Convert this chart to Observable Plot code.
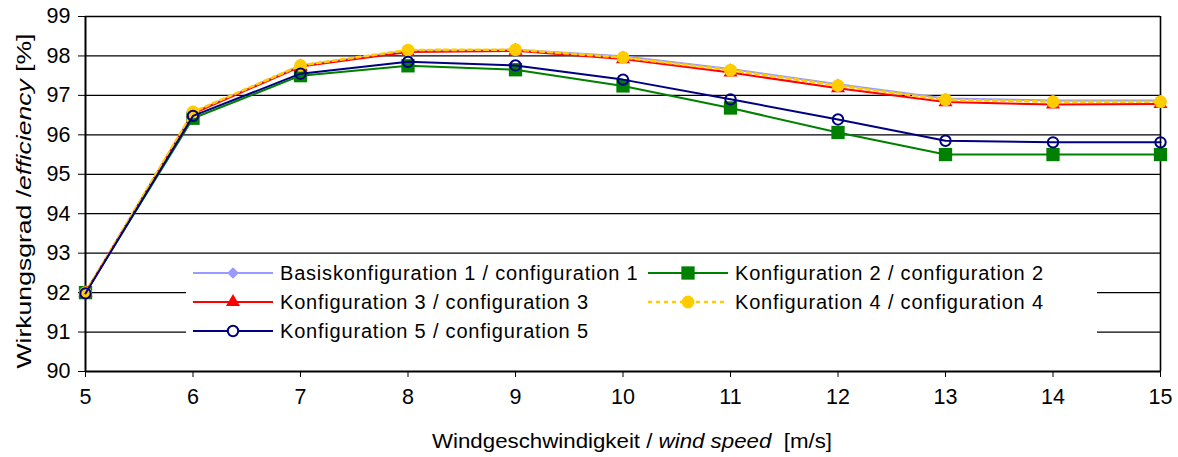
<!DOCTYPE html>
<html><head><meta charset="utf-8">
<script src="https://cdn.jsdelivr.net/npm/d3@7"></script>
<script src="https://cdn.jsdelivr.net/npm/@observablehq/plot@0.6"></script>
<style>
body{margin:0;background:#fff;}
#chart svg{font-family:"Liberation Sans",Arial,sans-serif;}
</style>
</head><body><div id="chart"></div>
<script>
// ---- data ----
const speeds = [5, 6, 7, 8, 9, 10, 11, 12, 13, 14, 15];
const config1 = [92.0, 96.56, 97.76, 98.13, 98.16, 97.99, 97.67, 97.28, 96.92, 96.87, 96.87];
const config2 = [92.0, 96.42, 97.50, 97.75, 97.65, 97.24, 96.68, 96.06, 95.50, 95.50, 95.50];
const config3 = [92.0, 96.54, 97.73, 98.10, 98.13, 97.92, 97.58, 97.18, 96.83, 96.77, 96.78];
const config4 = [92.0, 96.58, 97.76, 98.15, 98.16, 97.96, 97.64, 97.25, 96.89, 96.84, 96.84];
const config5 = [91.98, 96.48, 97.55, 97.85, 97.76, 97.40, 96.90, 96.39, 95.85, 95.81, 95.81];
const seriesNames = [
  "Basiskonfiguration 1 / configuration 1",
  "Konfiguration 2 / configuration 2",
  "Konfiguration 3 / configuration 3",
  "Konfiguration 4 / configuration 4",
  "Konfiguration 5 / configuration 5"
];
const seriesColors = ["#9999FF", "#008000", "#FF0000", "#FFCC00", "#000080"];
const xTicks = [5, 6, 7, 8, 9, 10, 11, 12, 13, 14, 15];
const yTicks = [90, 91, 92, 93, 94, 95, 96, 97, 98, 99];
const yTitle = ["Wirkungsgrad /", "efficiency", " [%]"];
const xTitle = ["Windgeschwindigkeit / ", "wind speed", "  [m/s]"];

const seriesValues = [config1, config2, config3, config4, config5];
const data = seriesNames.flatMap((name, i) =>
  speeds.map((s, j) => ({series: name, idx: i, speed: s, value: seriesValues[i][j]})));
const sd = i => data.filter(d => d.idx === i);

const symbols = ["diamond2", "square", "triangle", "circle", "circle"];
const radii = [5.2, 7.5, 5.2, 6.4, 5.2];

const marks = [
  Plot.ruleY(yTicks.filter(v => v > 90), {stroke: "#000", strokeWidth: 1.3}),
  Plot.ruleX([15], {stroke: "#000", strokeWidth: 1.6}),
  Plot.axisX({ticks: xTicks, tickSize: 6, tickPadding: 11, fontSize: 21.5, tickFormat: d => String(d), label: null, stroke: "#000"}),
  Plot.axisY({ticks: yTicks, tickSize: 7, tickPadding: 8, fontSize: 21.5, tickFormat: d => String(d), label: null, stroke: "#000"}),
  Plot.ruleY([90], {stroke: "#000", strokeWidth: 2}),
  Plot.ruleX([5], {stroke: "#000", strokeWidth: 2})
];
for (let i = 0; i < 5; i++) {
  marks.push(Plot.line(sd(i), {
    x: "speed", y: "value", stroke: seriesColors[i],
    strokeWidth: i === 3 ? 2.6 : 2,
    strokeDasharray: i === 3 ? "4,4" : null
  }));
  marks.push(Plot.dot(sd(i), {
    x: "speed", y: "value", symbol: symbols[i], r: radii[i],
    fill: i === 4 ? "none" : seriesColors[i],
    stroke: i === 4 ? seriesColors[i] : "none",
    strokeWidth: i === 4 ? 2 : 0
  }));
}

const chart = Plot.plot({
  width: 1178, height: 457,
  marginLeft: 85, marginRight: 18, marginTop: 16, marginBottom: 86,
  style: {background: "#fff", color: "#000", fontFamily: '"Liberation Sans", Arial, sans-serif', overflow: "visible"},
  x: {domain: [5, 15], label: null},
  y: {domain: [90, 99], label: null},
  marks
});
document.getElementById("chart").appendChild(chart);

// ---- titles and legend ----
const svg = d3.select(chart);
const yt = svg.append("text")
  .attr("transform", "translate(24,201) rotate(-90)")
  .attr("text-anchor", "middle").attr("dy", "0.35em")
  .attr("font-size", 20).attr("fill", "#000")
  .attr("textLength", 335).attr("lengthAdjust", "spacingAndGlyphs");
yTitle.forEach((t, k) => yt.append("tspan").attr("font-style", k === 1 ? "italic" : null).text(t));

const xt = svg.append("text")
  .attr("x", 632).attr("y", 441)
  .attr("text-anchor", "middle").attr("dy", "0.35em")
  .attr("font-size", 20).attr("fill", "#000")
  .attr("style", "white-space:pre")
  .attr("textLength", 400).attr("lengthAdjust", "spacingAndGlyphs");
xTitle.forEach((t, k) => xt.append("tspan").attr("font-style", k === 1 ? "italic" : null).text(t));

const lg = svg.append("g").attr("text-anchor", "start");
lg.append("rect").attr("x", 186).attr("y", 255).attr("width", 911).attr("height", 95).attr("fill", "#fff");
const cols = [193, 648], rows = [273, 302, 331];
const pos = [[0, 0], [1, 0], [0, 1], [1, 1], [0, 2]];
const d3sym = [d3.symbolDiamond2, d3.symbolSquare, d3.symbolTriangle, d3.symbolCircle, d3.symbolCircle];
seriesNames.forEach((name, i) => {
  const x = cols[pos[i][0]], y = rows[pos[i][1]];
  lg.append("line").attr("x1", x).attr("x2", x + 80).attr("y1", y).attr("y2", y)
    .attr("stroke", seriesColors[i]).attr("stroke-width", i === 3 ? 2.6 : 2)
    .attr("stroke-dasharray", i === 3 ? "4,4" : null);
  lg.append("path")
    .attr("transform", `translate(${x + 40},${y})`)
    .attr("d", d3.symbol(d3sym[i], Math.PI * radii[i] * radii[i])())
    .attr("fill", i === 4 ? "#fff" : seriesColors[i])
    .attr("stroke", i === 4 ? seriesColors[i] : "none")
    .attr("stroke-width", 2);
  lg.append("text").attr("x", x + 87).attr("y", y).attr("dy", "0.35em")
    .attr("text-anchor", "start").attr("letter-spacing", "0.8px")
    .attr("font-size", 20).attr("fill", "#000").text(name);
});
</script>
</body></html>
